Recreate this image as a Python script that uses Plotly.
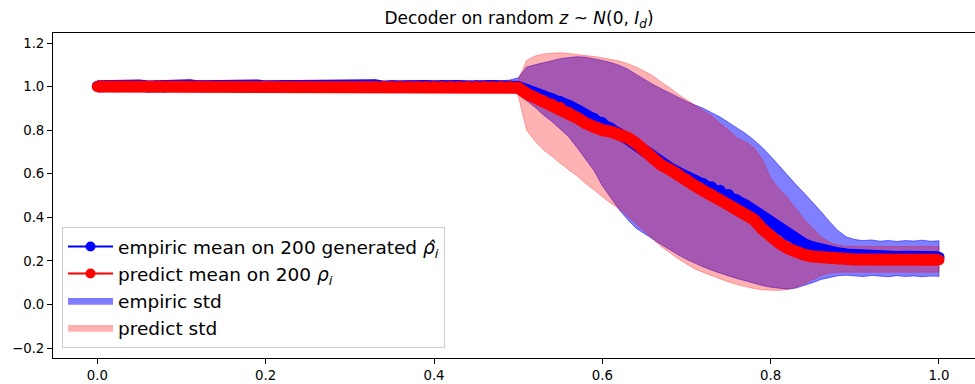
import plotly.graph_objects as go

# ---------------- data ----------------
x = [0.00, 0.01, 0.02, 0.03, 0.04, 0.05, 0.06, 0.07, 0.08, 0.09,
     0.10, 0.11, 0.12, 0.13, 0.14, 0.15, 0.16, 0.17, 0.18, 0.19,
     0.20, 0.21, 0.22, 0.23, 0.24, 0.25, 0.26, 0.27, 0.28, 0.29,
     0.30, 0.31, 0.32, 0.33, 0.34, 0.35, 0.36, 0.37, 0.38, 0.39,
     0.40, 0.41, 0.42, 0.43, 0.44, 0.45, 0.46, 0.47, 0.48, 0.49,
     0.50, 0.51, 0.52, 0.53, 0.54, 0.55, 0.56, 0.57, 0.58, 0.59,
     0.60, 0.61, 0.62, 0.63, 0.64, 0.65, 0.66, 0.67, 0.68, 0.69,
     0.70, 0.71, 0.72, 0.73, 0.74, 0.75, 0.76, 0.77, 0.78, 0.79,
     0.80, 0.81, 0.82, 0.83, 0.84, 0.85, 0.86, 0.87, 0.88, 0.89,
     0.90, 0.91, 0.92, 0.93, 0.94, 0.95, 0.96, 0.97, 0.98, 0.99,
     1.00]

# empiric mean (blue)
emp_mean = [1.002, 1.004, 0.999, 1.003, 1.001, 1.005, 1.000, 1.003, 0.998, 1.004,
            1.002, 1.006, 1.001, 1.003, 1.000, 1.004, 1.002, 0.999, 1.003, 1.005,
            1.001, 1.002, 1.004, 1.000, 1.003, 1.001, 1.005, 1.002, 0.999, 1.003,
            1.004, 1.001, 1.002, 1.006, 1.000, 1.003, 1.002, 1.004, 0.999, 1.003,
            1.001, 1.005, 1.002, 1.003, 1.000, 1.004, 1.002, 1.003, 1.001, 1.003,
            0.998, 0.985, 0.972, 0.958, 0.945, 0.932, 0.912, 0.892, 0.872, 0.855,
            0.835, 0.810, 0.785, 0.760, 0.733, 0.703, 0.675, 0.650, 0.626, 0.605,
            0.587, 0.570, 0.555, 0.540, 0.524, 0.505, 0.480, 0.455, 0.430, 0.403,
            0.375, 0.347, 0.318, 0.296, 0.276, 0.262, 0.250, 0.242, 0.235, 0.229,
            0.225, 0.222, 0.221, 0.219, 0.220, 0.218, 0.219, 0.217, 0.218, 0.217,
            0.217]

# predicted mean (red)
pred_mean = [1.000, 1.000, 1.000, 1.000, 1.000, 1.000, 1.000, 1.000, 1.000, 1.000,
             1.000, 1.000, 1.000, 1.000, 1.000, 1.000, 1.000, 1.000, 1.000, 1.000,
             1.000, 1.000, 1.000, 1.000, 1.000, 1.000, 1.000, 1.000, 1.000, 1.000,
             1.000, 1.000, 1.000, 1.000, 1.000, 1.000, 1.000, 1.000, 1.000, 1.000,
             1.000, 1.000, 1.000, 1.000, 1.000, 1.000, 1.000, 1.000, 1.000, 1.000,
             0.995, 0.968, 0.950, 0.935, 0.920, 0.905, 0.882, 0.857, 0.832, 0.812,
             0.800, 0.793, 0.782, 0.765, 0.740, 0.705, 0.670, 0.640, 0.620, 0.600,
             0.575, 0.545, 0.522, 0.505, 0.482, 0.457, 0.435, 0.415, 0.390, 0.347,
             0.310, 0.282, 0.258, 0.240, 0.228, 0.220, 0.215, 0.211, 0.208, 0.207,
             0.206, 0.206, 0.206, 0.205, 0.205, 0.205, 0.205, 0.205, 0.205, 0.205,
             0.205]

# empiric std band (blue)
emp_upper = [1.021, 1.026, 1.019, 1.024, 1.022, 1.027, 1.020, 1.025, 1.018, 1.023,
             1.026, 1.021, 1.028, 1.022, 1.019, 1.025, 1.023, 1.020, 1.026, 1.022,
             1.024, 1.019, 1.027, 1.021, 1.023, 1.026, 1.020, 1.024, 1.022, 1.018,
             1.025, 1.021, 1.027, 1.023, 1.020, 1.029, 1.022, 1.024, 1.019, 1.026,
             1.021, 1.025, 1.023, 1.020, 1.027, 1.022, 1.024, 1.021, 1.026, 1.030,
             1.040, 1.090, 1.100, 1.110, 1.120, 1.128, 1.133, 1.137, 1.135, 1.128,
             1.120, 1.110, 1.098, 1.080, 1.057, 1.032, 1.010, 0.990, 0.970, 0.950,
             0.932, 0.915, 0.900, 0.880, 0.860, 0.835, 0.810, 0.785, 0.755, 0.720,
             0.680, 0.635, 0.590, 0.550, 0.510, 0.470, 0.425, 0.380, 0.338, 0.310,
             0.298, 0.293, 0.296, 0.290, 0.294, 0.289, 0.293, 0.291, 0.295, 0.290,
             0.292]
emp_lower = [0.981, 0.977, 0.983, 0.979, 0.982, 0.976, 0.980, 0.984, 0.978, 0.981,
             0.977, 0.982, 0.979, 0.983, 0.976, 0.980, 0.982, 0.978, 0.984, 0.979,
             0.981, 0.977, 0.983, 0.980, 0.978, 0.982, 0.976, 0.981, 0.979, 0.983,
             0.977, 0.980, 0.982, 0.978, 0.984, 0.979, 0.981, 0.976, 0.983, 0.980,
             0.978, 0.982, 0.979, 0.981, 0.977, 0.983, 0.980, 0.978, 0.982, 0.979,
             0.965, 0.935, 0.905, 0.870, 0.840, 0.805, 0.770, 0.720, 0.670, 0.615,
             0.545, 0.490, 0.435, 0.390, 0.350, 0.325, 0.300, 0.275, 0.250, 0.228,
             0.207, 0.188, 0.172, 0.157, 0.143, 0.131, 0.119, 0.107, 0.097, 0.087,
             0.079, 0.073, 0.070, 0.075, 0.086, 0.100, 0.115, 0.125, 0.132, 0.134,
             0.131, 0.128, 0.133, 0.129, 0.127, 0.132, 0.128, 0.131, 0.127, 0.130,
             0.129]

# predicted std band (red)
pred_upper = [1.004, 1.004, 1.004, 1.004, 1.004, 1.004, 1.004, 1.004, 1.004, 1.004,
              1.004, 1.004, 1.004, 1.004, 1.004, 1.004, 1.004, 1.004, 1.004, 1.004,
              1.004, 1.004, 1.004, 1.004, 1.004, 1.004, 1.004, 1.004, 1.004, 1.004,
              1.004, 1.004, 1.004, 1.004, 1.004, 1.004, 1.004, 1.004, 1.004, 1.004,
              1.004, 1.004, 1.004, 1.004, 1.004, 1.004, 1.004, 1.004, 1.004, 1.004,
              1.030, 1.120, 1.140, 1.150, 1.153, 1.155, 1.152, 1.148, 1.142, 1.138,
              1.132, 1.125, 1.117, 1.105, 1.090, 1.070, 1.050, 1.020, 0.995, 0.965,
              0.940, 0.915, 0.890, 0.865, 0.830, 0.800, 0.765, 0.745, 0.720, 0.665,
              0.580, 0.530, 0.490, 0.440, 0.390, 0.350, 0.310, 0.285, 0.272, 0.267,
              0.266, 0.266, 0.266, 0.266, 0.266, 0.266, 0.266, 0.266, 0.266, 0.266,
              0.266]
pred_lower = [0.996, 0.996, 0.996, 0.996, 0.996, 0.996, 0.996, 0.996, 0.996, 0.996,
              0.996, 0.996, 0.996, 0.996, 0.996, 0.996, 0.996, 0.996, 0.996, 0.996,
              0.996, 0.996, 0.996, 0.996, 0.996, 0.996, 0.996, 0.996, 0.996, 0.996,
              0.996, 0.996, 0.996, 0.996, 0.996, 0.996, 0.996, 0.996, 0.996, 0.996,
              0.996, 0.996, 0.996, 0.996, 0.996, 0.996, 0.996, 0.996, 0.996, 0.996,
              0.960, 0.800, 0.750, 0.710, 0.680, 0.648, 0.618, 0.590, 0.556, 0.522,
              0.495, 0.465, 0.440, 0.405, 0.370, 0.335, 0.300, 0.265, 0.238, 0.210,
              0.185, 0.163, 0.147, 0.132, 0.117, 0.103, 0.091, 0.081, 0.073, 0.067,
              0.064, 0.064, 0.069, 0.079, 0.094, 0.113, 0.133, 0.144, 0.148, 0.148,
              0.148, 0.148, 0.148, 0.148, 0.148, 0.148, 0.148, 0.148, 0.148, 0.148,
              0.148]

x_ticks = [0.0, 0.2, 0.4, 0.6, 0.8, 1.0]
y_ticks = [-0.2, 0.0, 0.2, 0.4, 0.6, 0.8, 1.0, 1.2]

title_text = "Decoder on random <i>z</i> ~ <i>N</i>(0, <i>I</i><sub><i>d</i></sub>)"
name_emp_mean = "empiric mean on 200 generated <i>ρ̂</i><sub><i>i</i></sub>"
name_pred_mean = "predict mean on 200 <i>ρ</i><sub><i>i</i></sub>"
name_emp_std = "empiric std"
name_pred_std = "predict std"

# ---------------- figure ----------------
FONT = "DejaVu Sans"
BLUE = "rgb(0,0,255)"
RED = "rgb(255,0,0)"

fig = go.Figure()

# std bands (drawn first, blue then red on top)
fig.add_trace(go.Scatter(
    x=x + x[::-1], y=emp_upper + emp_lower[::-1],
    mode="lines", fill="toself",
    fillcolor="rgba(0,0,255,0.5)",
    line=dict(color="rgba(0,0,255,0.5)", width=1),
    name=name_emp_std, legendrank=3, legendgroup="g3",
    hoverinfo="skip"))
fig.add_trace(go.Scatter(
    x=x + x[::-1], y=pred_upper + pred_lower[::-1],
    mode="lines", fill="toself",
    fillcolor="rgba(255,0,0,0.3)",
    line=dict(color="rgba(255,0,0,0.3)", width=1),
    name=name_pred_std, legendrank=4, legendgroup="g4",
    hoverinfo="skip"))

# thick mean curves (dense markers in the original)
fig.add_trace(go.Scatter(
    x=x, y=emp_mean, mode="lines+markers",
    line=dict(color=BLUE, width=12),
    marker=dict(color=BLUE, size=11),
    showlegend=False, legendgroup="g1"))
fig.add_trace(go.Scatter(
    x=x, y=pred_mean, mode="lines+markers",
    line=dict(color=RED, width=12),
    marker=dict(color=RED, size=11),
    showlegend=False, legendgroup="g2"))

# legend entries for the mean curves (thin line + marker like matplotlib)
fig.add_trace(go.Scatter(
    x=[None], y=[None], mode="lines+markers",
    line=dict(color=BLUE, width=2), marker=dict(color=BLUE, size=10),
    name=name_emp_mean, legendrank=1, legendgroup="g1"))
fig.add_trace(go.Scatter(
    x=[None], y=[None], mode="lines+markers",
    line=dict(color=RED, width=2), marker=dict(color=RED, size=10),
    name=name_pred_mean, legendrank=2, legendgroup="g2"))

L, R, T, B = 53, 0, 33, 26
W, H = 975, 384
plot_w = W - L - R
plot_h = H - T - B

fig.update_layout(
    width=W, height=H,
    margin=dict(l=L, r=R, t=T, b=B, pad=0),
    paper_bgcolor="white", plot_bgcolor="white",
    font=dict(family=FONT, color="black"),
    title=dict(text=title_text, font=dict(family=FONT, size=17, color="black"),
               xref="paper", x=(519 - L) / plot_w, xanchor="center",
               yref="container", y=1 - 18 / H, yanchor="middle"),
    showlegend=True,
    legend=dict(
        x=(62 - L) / plot_w, y=(358 - 348) / plot_h,
        xanchor="left", yanchor="bottom",
        bgcolor="rgba(255,255,255,0.8)",
        bordercolor="#cccccc", borderwidth=1,
        font=dict(family=FONT, size=18.5, color="black"),
        tracegroupgap=0,
        traceorder="grouped",
        itemwidth=45,
    ),
    xaxis=dict(
        range=[-0.0527, 1.0428],
        tickvals=x_ticks, tickformat=".1f",
        ticks="outside", ticklen=5, tickwidth=1, tickcolor="black",
        showline=True, linecolor="black", linewidth=1, mirror=True,
        showgrid=False, zeroline=False,
        tickfont=dict(family=FONT, size=13.3, color="black"),
    ),
    yaxis=dict(
        range=[-0.2459, 1.2459],
        tickvals=y_ticks, tickformat=".1f",
        ticks="outside", ticklen=5, tickwidth=1, tickcolor="black",
        showline=True, linecolor="black", linewidth=1, mirror=False,
        showgrid=False, zeroline=False,
        tickfont=dict(family=FONT, size=13.3, color="black"),
    ),
)

fig.write_html("out.html")
